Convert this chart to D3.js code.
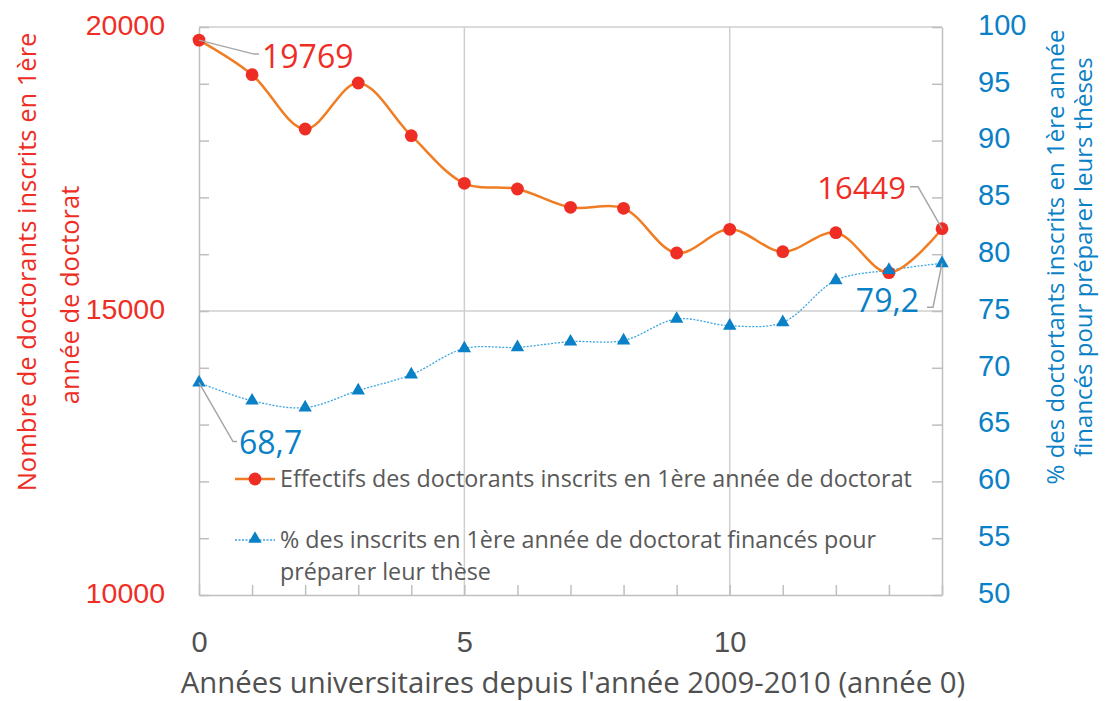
<!DOCTYPE html>
<html>
<head>
<meta charset="utf-8">
<script src="https://cdn.jsdelivr.net/npm/d3@7"></script>
<style>
  body { margin: 0; background: #fff; }
  svg { font-family: "Open Sans", "Noto Sans", sans-serif; }
</style>
</head>
<body>
<div id="chart"></div>
<script>
// data
const annees = [0, 1, 2, 3, 4, 5, 6, 7, 8, 9, 10, 11, 12, 13, 14];
const effectifs = [19769, 19160, 18204, 19014, 18087, 17248, 17148, 16825, 16808, 16021, 16438, 16044, 16379, 15674, 16449];
const pctFinances = [68.7, 67.1, 66.5, 68.0, 69.4, 71.7, 71.8, 72.3, 72.4, 74.3, 73.7, 74.0, 77.7, 78.6, 79.2];
const xLabels = [0, 5, 10];
const leftLabels = [10000, 15000, 20000];
const rightLabels = [50, 55, 60, 65, 70, 75, 80, 85, 90, 95, 100];

const W = 1111, H = 701;
const M = { left: 199, right: 169, top: 27, bottom: 106 };
const iw = W - M.left - M.right, ih = H - M.top - M.bottom;

const RED = "#ee2d24", ORANGE = "#f07d23", BLUE = "#0a80c6", LBLUE = "#3aa6e0";
const GRID = "#cfcfcf", TXT = "#595959";

const svg = d3.select("#chart").append("svg")
  .attr("width", W).attr("height", H);
const g = svg.append("g").attr("transform", `translate(${M.left},${M.top})`);

const x = d3.scaleLinear().domain([0, 14]).range([0, iw]);
const yL = d3.scaleLinear().domain([10000, 20000]).range([ih, 0]);
const yR = d3.scaleLinear().domain([50, 100]).range([ih, 0]);

// gridlines + top border
g.append("g").selectAll("line").data(xLabels.filter(d => d > 0)).join("line")
  .attr("x1", d => x(d)).attr("x2", d => x(d)).attr("y1", 0).attr("y2", ih)
  .attr("stroke", GRID).attr("stroke-width", 1.5);
g.append("line").attr("x1", 0).attr("x2", iw).attr("y1", yL(15000)).attr("y2", yL(15000))
  .attr("stroke", GRID).attr("stroke-width", 1.5);
g.append("line").attr("x1", 0).attr("x2", iw).attr("y1", 0).attr("y2", 0)
  .attr("stroke", GRID).attr("stroke-width", 1.5);

// axes
const styleAxis = (sel, color, size) => {
  sel.select(".domain").attr("stroke", "#bfbfbf").attr("stroke-width", 1.5);
  sel.selectAll(".tick line").attr("stroke", "#bfbfbf").attr("stroke-width", 1.5);
  sel.selectAll(".tick text").attr("fill", color).style("font-size", size + "px");
};

g.append("g")
  .call(d3.axisLeft(yL).tickValues(d3.range(10000, 20001, 1000)).tickSize(-10).tickSizeOuter(0)
    .tickPadding(34).tickFormat(d => leftLabels.includes(d) ? d : ""))
  .call(s => styleAxis(s, RED, 28.5))
  .call(s => s.selectAll(".tick text").attr("dy", "0.25em"));

g.append("g").attr("transform", `translate(${iw},0)`)
  .call(d3.axisRight(yR).tickValues(rightLabels).tickSize(-10).tickSizeOuter(0)
    .tickPadding(36).tickFormat(d => d))
  .call(s => styleAxis(s, BLUE, 29))
  .call(s => s.selectAll(".tick text").attr("dy", "0.25em"));

g.append("g").attr("transform", `translate(0,${ih})`)
  .call(d3.axisBottom(x).tickValues(annees).tickSize(-10).tickSizeOuter(0)
    .tickPadding(36).tickFormat(d => xLabels.includes(d) ? d : ""))
  .call(s => styleAxis(s, "#404040", 29))
  .call(s => s.selectAll(".tick text").attr("fill", "#505050"));

// axis titles
svg.append("text").attr("transform", `translate(${27 + 9},262) rotate(-90)`)
  .attr("text-anchor", "middle").attr("fill", RED).style("font-size", "25.5px")
  .text("Nombre de doctorants inscrits en 1ère");
svg.append("text").attr("transform", `translate(${70 + 9},295) rotate(-90)`)
  .attr("text-anchor", "middle").attr("fill", RED).style("font-size", "25.5px")
  .text("année de doctorat");

svg.append("text").attr("transform", `translate(${1055 + 9},257) rotate(-90)`)
  .attr("text-anchor", "middle").attr("fill", BLUE).style("font-size", "24px")
  .text("% des doctortants inscrits en 1ère année");
svg.append("text").attr("transform", `translate(${1083 + 9},257) rotate(-90)`)
  .attr("text-anchor", "middle").attr("fill", BLUE).style("font-size", "24px")
  .text("financés pour préparer leurs thèses");

svg.append("text").attr("x", 573).attr("y", 693)
  .attr("text-anchor", "middle").attr("fill", "#505050").style("font-size", "29.3px")
  .text("Années universitaires depuis l'année 2009-2010 (année 0)");

// series
const lineEff = d3.line().x((d, i) => x(annees[i])).y(d => yL(d)).curve(d3.curveCatmullRom.alpha(0.5));
const linePct = d3.line().x((d, i) => x(annees[i])).y(d => yR(d)).curve(d3.curveCatmullRom.alpha(0.5));

g.append("path").datum(pctFinances).attr("d", linePct)
  .attr("fill", "none").attr("stroke", LBLUE).attr("stroke-width", 1.3).attr("stroke-dasharray", "2,1.5");
g.append("path").datum(effectifs).attr("d", lineEff)
  .attr("fill", "none").attr("stroke", ORANGE).attr("stroke-width", 2.5);

g.append("g").selectAll("circle").data(effectifs).join("circle")
  .attr("cx", (d, i) => x(annees[i])).attr("cy", d => yL(d)).attr("r", 6.4).attr("fill", RED);

const tri = d3.symbol(d3.symbolTriangle).size(78);
g.append("g").selectAll("path").data(pctFinances).join("path")
  .attr("d", tri).attr("fill", BLUE)
  .attr("transform", (d, i) => `translate(${x(annees[i])},${yR(d)})`);

// data labels with leader lines
const last = annees.length - 1;
const leader = (pts) => g.append("path").attr("d", d3.line()(pts))
  .attr("fill", "none").attr("stroke", "#a6a6a6").attr("stroke-width", 1.5);

let p0 = [x(0), yL(effectifs[0])];
leader([p0, [p0[0] + 55, p0[1] + 14], [p0[0] + 60, p0[1] + 14]]);
g.append("text").attr("x", p0[0] + 63).attr("y", p0[1] + 28).attr("fill", RED)
  .style("font-size", "32px").text(effectifs[0]);

let p1 = [x(last), yL(effectifs[last])];
leader([p1, [p1[0] - 24, p1[1] - 42], [p1[0] - 32, p1[1] - 42]]);
g.append("text").attr("x", p1[0] - 36).attr("y", p1[1] - 30).attr("text-anchor", "end")
  .attr("fill", RED).style("font-size", "31px").text(effectifs[last]);

let p2 = [x(0), yR(pctFinances[0])];
leader([p2, [p2[0] + 34, p2[1] + 59], [p2[0] + 38, p2[1] + 59]]);
g.append("text").attr("x", p2[0] + 40).attr("y", p2[1] + 71).attr("fill", BLUE)
  .style("font-size", "32px").text(String(pctFinances[0]).replace(".", ","));

let p3 = [x(last), yR(pctFinances[last])];
leader([p3, [p3[0] - 9, p3[1] + 44], [p3[0] - 15, p3[1] + 44]]);
g.append("text").attr("x", p3[0] - 23).attr("y", p3[1] + 49).attr("text-anchor", "end")
  .attr("fill", BLUE).style("font-size", "32px").text(String(pctFinances[last]).replace(".", ","));

// legend
const lg = svg.append("g").style("font-size", "23.3px").attr("fill", TXT);
lg.append("line").attr("x1", 235).attr("x2", 275).attr("y1", 479).attr("y2", 479)
  .attr("stroke", ORANGE).attr("stroke-width", 2.5);
lg.append("circle").attr("cx", 255).attr("cy", 479).attr("r", 6.4).attr("fill", RED);
lg.append("text").attr("x", 280).attr("y", 487).text("Effectifs des doctorants inscrits en 1ère année de doctorat");

lg.append("line").attr("x1", 235).attr("x2", 275).attr("y1", 540).attr("y2", 540)
  .attr("stroke", LBLUE).attr("stroke-width", 1.3).attr("stroke-dasharray", "2,1.5");
lg.append("path").attr("d", tri).attr("fill", BLUE).attr("transform", "translate(255,539)");
lg.append("text").attr("x", 280).attr("y", 548).text("% des inscrits en 1ère année de doctorat financés pour");
lg.append("text").attr("x", 280).attr("y", 580).text("préparer leur thèse");
</script>
</body>
</html>
